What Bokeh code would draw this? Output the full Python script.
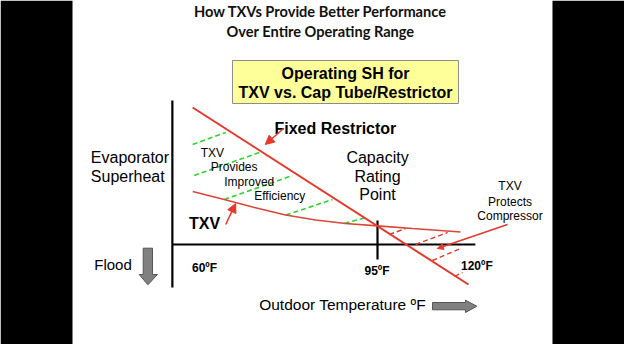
from bokeh.plotting import figure
from bokeh.models import Arrow, NormalHead, BoxAnnotation, Range1d
from bokeh.core.properties import value
from bokeh.embed import file_html
from bokeh.resources import INLINE

# ---------------- data (x: outdoor temperature in F, y: superheat, arbitrary units) ----
txv_temp = [57.6, 64.0, 70.1, 76.4, 82.5, 88.5, 95.0, 102.1, 111.8]
txv_sh = [5.3, 4.5, 3.7, 2.95, 2.45, 2.1, 1.86, 1.6, 1.25]

restrictor_temp = [57.6, 113.4]
restrictor_sh = [13.7, -4.0]

# green hatching: "TXV provides improved efficiency"
green_x0 = [57.6, 57.9, 64.0, 76.45, 88.3]
green_y0 = [10.0, 6.9, 4.5, 2.95, 2.1]
green_x1 = [64.3, 71.1, 77.8, 85.9, 92.6]
green_y1 = [11.2, 9.2, 6.9, 4.5, 2.7]

# red hatching: "TXV protects compressor"
red_x0 = [97.4, 102.7, 106.1, 110.6]
red_y0 = [1.0, 0.0, -1.6, -3.2]
red_x1 = [100.7, 109.2, 111.8, 112.2]
red_y1 = [1.6, 1.2, -0.4, -2.8]

tick_labels = ["60ºF", "95ºF", "120ºF"]
tick_label_x = [60.0, 94.9, 115.1]
tick_label_y = [-2.3, -2.6, -2.1]

rating_temp = 95.0

# ---------------- figure ----------------
k = 4.943  # px per degree
x0 = 18.73
p = figure(width=624, height=344, output_backend="svg", toolbar_location=None,
           x_range=Range1d(x0, x0 + 624 / k), y_range=Range1d(-10, 24.4),
           min_border=0, background_fill_color="white", border_fill_color="black")
p.axis.visible = False
p.grid.visible = False
p.outline_line_color = None

# black side borders of the slide
p.add_layout(BoxAnnotation(right=33.3, fill_color="black", fill_alpha=1, line_color=None, level="underlay"))
p.add_layout(BoxAnnotation(left=130.4, fill_color="black", fill_alpha=1, line_color=None, level="underlay"))

RED = "#E4392B"
FONT = value("Liberation Sans")

# axes
p.line([53.5, 53.5], [14.4, -4.3], line_color="black", line_width=2.2)
p.line([53.5, 114.8], [0, 0], line_color="black", line_width=2.2)
p.line([rating_temp, rating_temp], [2.4, -1.5], line_color="black", line_width=2.2)

# hatching
p.segment(green_x0, green_y0, green_x1, green_y1, line_color="#2FD22F", line_width=1.6, line_dash="5 3")
p.segment(red_x0, red_y0, red_x1, red_y1, line_color=RED, line_width=1.4, line_dash="5 3")

# curves
p.line(txv_temp, txv_sh, line_color="#D8473A", line_width=1.6)
p.line(restrictor_temp, restrictor_sh, line_color=RED, line_width=2.0)

# arrows (callouts)
arr_x0 = [76.0, 64.3, 121.3]
arr_y0 = [11.6, 2.0, 2.0]
arr_x1 = [72.3, 66.3, 107.1]
arr_y1 = [10.0, 4.1, -0.4]
arr_size = [9, 9, 6]
for a, b, c, d, s in zip(arr_x0, arr_y0, arr_x1, arr_y1, arr_size):
    p.add_layout(Arrow(end=NormalHead(size=s, fill_color=RED, line_color=RED),
                       x_start=a, y_start=b, x_end=c, y_end=d,
                       line_color=RED, line_width=1.6))

# grey block arrows
flood_arrow_x = [47.6, 49.48, 49.48, 50.49, 48.55, 46.79, 47.6]
flood_arrow_y = [-0.37, -0.37, -3.0, -3.0, -4.03, -3.0, -3.0]
temp_arrow_x = [106.13, 112.8, 112.8, 115.09, 112.8, 112.8, 106.13]
temp_arrow_y = [-5.8, -5.8, -5.57, -6.17, -6.8, -6.53, -6.53]
p.patch(flood_arrow_x, flood_arrow_y, fill_color="#808080", line_color="#555555", line_width=1)
p.patch(temp_arrow_x, temp_arrow_y, fill_color="#808080", line_color="#555555", line_width=1)

# yellow box
p.quad(left=[65.66], right=[111.38], top=[18.4], bottom=[14.1],
       fill_color="#FFFF99", line_color="#8C8C8C", line_width=1)


def txt(xs, ys, texts, size, bold=False, align="center", font=FONT, color="black"):
    p.text(x=xs, y=ys, text=texts, text_font=font, text_font_size=size,
           text_font_style="bold" if bold else "normal", text_align=align,
           text_baseline="middle", text_color=color)


# titles
txt([83.47, 83.47], [23.3, 21.3], ["How TXVs Provide Better Performance", "Over Entire Operating Range"],
    "14.6px", bold=True, font=value("Lato"), color="#111111")
txt([88.53, 88.53], [17.1, 15.2], ["Operating SH for", "TXV vs. Cap Tube/Restrictor"], "16px", bold=True)

# labels
txt([74.16], [11.6], ["Fixed Restrictor"], "16px", bold=True, align="left")
txt([60.0], [2.1], ["TXV"], "16px", bold=True)
txt([59.25, 61.28, 63.99, 70.06], [9.2, 7.8, 6.3, 4.87],
    ["TXV", "Provides", "Improved", "Efficiency"], "12px", align="left")
txt([95.0, 95.0, 95.0], [8.7, 6.8, 5.0], ["Capacity", "Rating", "Point"], "16px")
txt([121.8, 121.8, 121.8], [5.87, 4.3, 2.87], ["TXV", "Protects", "Compressor"], "12px")
txt([37.0, 37.0], [8.7, 6.77], ["Evaporator", "Superheat"], "16px", align="left")
txt([37.69], [-1.97], ["Flood"], "15px", align="left")
txt([71.06], [-6.0], ["Outdoor Temperature ºF"], "15.5px", align="left")
txt(tick_label_x, tick_label_y, tick_labels, "12px", bold=True)

open("out.html", "w").write(file_html(p, INLINE))
